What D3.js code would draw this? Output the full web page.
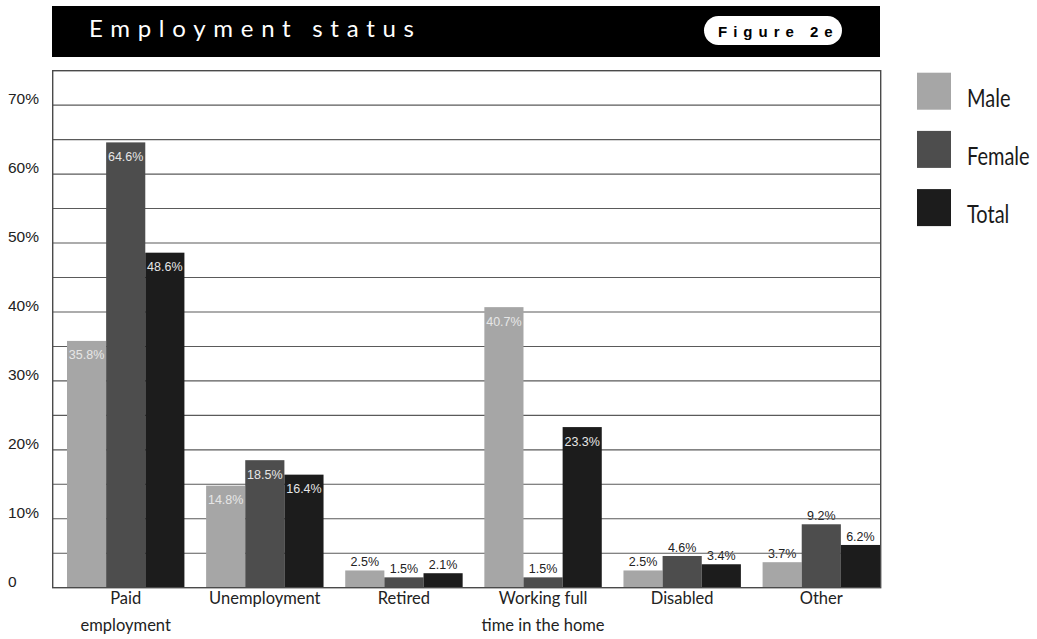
<!DOCTYPE html>
<html>
<head>
<meta charset="utf-8">
<script src="https://cdn.jsdelivr.net/npm/d3@7"></script>
<style>
  html, body { margin: 0; padding: 0; background: #fff; }
  svg { display: block; }
</style>
</head>
<body>
<svg id="chart" width="1037" height="639"></svg>
<script>
// Employment status by sex (percent of respondents)
const categories = ["Paid employment", "Unemployment", "Retired", "Working full time in the home", "Disabled", "Other"];
const categoryLines = [["Paid", "employment"], ["Unemployment"], ["Retired"], ["Working full", "time in the home"], ["Disabled"], ["Other"]];
const seriesNames = ["Male", "Female", "Total"];
const maleValues   = [35.8, 14.8, 2.5, 40.7, 2.5, 3.7];
const femaleValues = [64.6, 18.5, 1.5, 1.5, 4.6, 9.2];
const totalValues  = [48.6, 16.4, 2.1, 23.3, 3.4, 6.2];
const yTicks = [0, 10, 20, 30, 40, 50, 60, 70];
const yTickLabels = ["0", "10%", "20%", "30%", "40%", "50%", "60%", "70%"];
const gridValues = [5, 10, 15, 20, 25, 30, 35, 40, 45, 50, 55, 60, 65, 70];
const titleText = "Employment status";
const figureText = "Figure 2e";

const seriesValues = [maleValues, femaleValues, totalValues];
const colors = ["#a6a6a6", "#4d4d4d", "#1c1c1c"];
const humanist = "Lato, 'Open Sans', sans-serif";
const arial = "'Liberation Sans', Arial, sans-serif";

const svg = d3.select("#chart");

// plot frame
const frame = { left: 52.7, right: 880.7, top: 70.7, bottom: 587.7 };

const y = d3.scaleLinear().domain([0, 75]).range([frame.bottom, frame.top]);
const x0 = d3.scaleBand().domain(categories).range([67, 880]).paddingInner(0.156).paddingOuter(0);
const x1 = d3.scaleBand().domain(seriesNames).range([0, x0.bandwidth()]);

const rows = categories.map((c, i) => ({
  category: c,
  bars: seriesNames.map((s, j) => ({ series: s, value: seriesValues[j][i], color: colors[j] }))
}));

// title bar
svg.append("rect")
  .attr("x", 52).attr("y", 6).attr("width", 828).attr("height", 51)
  .attr("fill", "#000");
svg.append("text")
  .attr("x", 89).attr("y", 37)
  .attr("fill", "#fff")
  .attr("font-family", humanist)
  .attr("font-size", 24)
  .attr("textLength", 325)
  .attr("lengthAdjust", "spacing")
  .text(titleText);
svg.append("rect")
  .attr("x", 704).attr("y", 16).attr("width", 138).attr("height", 29)
  .attr("rx", 14.5).attr("ry", 14.5)
  .attr("fill", "#fff");
svg.append("text")
  .attr("x", 718).attr("y", 36.5)
  .attr("fill", "#000")
  .attr("font-family", arial)
  .attr("font-weight", "bold")
  .attr("font-size", 15)
  .attr("letter-spacing", 6)
  .text(figureText);

// frame background
svg.append("rect")
  .attr("x", frame.left).attr("y", frame.top)
  .attr("width", frame.right - frame.left).attr("height", frame.bottom - frame.top)
  .attr("fill", "#fff");

// value labels that sit above short bars (drawn beneath the grid)
const outside = svg.append("g");
rows.forEach(r => {
  r.bars.forEach(b => {
    if (b.value < 10) {
      outside.append("text")
        .attr("x", x0(r.category) + x1(b.series) + x1.bandwidth() / 2)
        .attr("y", y(b.value) - 4)
        .attr("text-anchor", "middle")
        .attr("font-family", arial)
        .attr("font-size", 12.5)
        .attr("fill", "#222")
        .text(b.value.toFixed(1) + "%");
    }
  });
});

// horizontal grid every 5%
svg.append("g")
  .selectAll("line")
  .data(gridValues)
  .join("line")
  .attr("x1", frame.left).attr("x2", frame.right)
  .attr("y1", d => y(d)).attr("y2", d => y(d))
  .attr("stroke", "#5a5a5a")
  .attr("stroke-width", 1.1);

// bars
const groups = svg.append("g")
  .selectAll("g")
  .data(rows)
  .join("g")
  .attr("transform", d => `translate(${x0(d.category)},0)`);

groups.selectAll("rect")
  .data(d => d.bars)
  .join("rect")
  .attr("x", d => x1(d.series))
  .attr("y", d => y(d.value))
  .attr("width", x1.bandwidth())
  .attr("height", d => y(0) - y(d.value))
  .attr("fill", d => d.color);

// value labels inside tall bars
groups.selectAll("text.inside")
  .data(d => d.bars.filter(b => b.value >= 10))
  .join("text")
  .attr("class", "inside")
  .attr("x", d => x1(d.series) + x1.bandwidth() / 2)
  .attr("y", d => y(d.value) + 18.5)
  .attr("text-anchor", "middle")
  .attr("font-family", arial)
  .attr("font-size", 12.5)
  .attr("fill", "#e6e6e6")
  .text(d => d.value.toFixed(1) + "%");

// frame border
svg.append("rect")
  .attr("x", frame.left).attr("y", frame.top)
  .attr("width", frame.right - frame.left).attr("height", frame.bottom - frame.top)
  .attr("fill", "none")
  .attr("stroke", "#4a4a4a")
  .attr("stroke-width", 1.4);

// y axis labels
svg.append("g")
  .selectAll("text")
  .data(yTicks)
  .join("text")
  .attr("x", 8)
  .attr("y", d => y(d) - 1)
  .attr("font-family", arial)
  .attr("font-size", 15.5)
  .attr("fill", "#222")
  .text((d, i) => yTickLabels[i]);

// category labels
const xLabels = svg.append("g");
categories.forEach((c, i) => {
  const cx = x0(c) + x0.bandwidth() / 2;
  const t = xLabels.append("text")
    .attr("text-anchor", "middle")
    .attr("font-family", humanist)
    .attr("font-size", 16.5)
    .attr("fill", "#222");
  categoryLines[i].forEach((line, k) => {
    t.append("tspan").attr("x", cx).attr("y", 604 + k * 26.7).text(line);
  });
});

// legend
const legend = svg.append("g");
seriesNames.forEach((s, i) => {
  const top = 72.7 + i * 58.2;
  legend.append("rect")
    .attr("x", 917).attr("y", top).attr("width", 34).attr("height", 37)
    .attr("fill", colors[i]);
  legend.append("text")
    .attr("transform", `translate(967,${top + 34.3}) scale(0.8,1)`)
    .attr("font-family", humanist)
    .attr("font-size", 25)
    .attr("fill", "#1a1a1a")
    .text(s);
});
</script>
</body>
</html>
